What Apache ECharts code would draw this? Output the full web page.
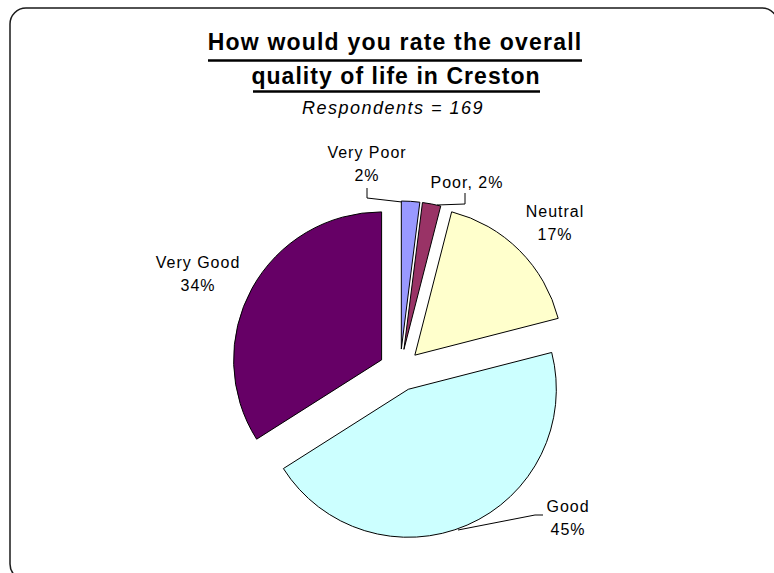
<!DOCTYPE html>
<html>
<head>
<meta charset="utf-8">
<script src="https://cdn.jsdelivr.net/npm/echarts@6/dist/echarts.min.js"></script>
<style>
  html, body { margin: 0; padding: 0; background: #fff; }
  #chart { width: 774px; height: 573px; }
</style>
</head>
<body>
<div id="chart"></div>
<script>
// Survey answers, clockwise from 12 o'clock
const categories = ['Very Poor', 'Poor', 'Neutral', 'Good', 'Very Good'];
const percentages = [2, 2, 17, 45, 34];
const sliceColors = ['#9999FF', '#993366', '#FFFFCC', '#CCFFFF', '#660066'];
const titleLines = ['How would you rate the overall', 'quality of life in Creston'];
const subtitle = 'Respondents = 169';

const FONT = '"Liberation Sans", Arial, Helvetica, sans-serif';

// where each category label sits (centre of first line), whether name and value share a line,
// and the leader line (if any) that runs from the label back to its slice
const labelSpots = [
  { x: 367, y: 152, inline: false, line: [[367, 188], [367, 198], [402, 202]] },
  { x: 467, y: 182, inline: true,  line: [[465, 193], [465, 204], [437, 205]] },
  { x: 555, y: 211, inline: false, line: null },
  { x: 568, y: 506, inline: false, line: [[543, 515], [535, 515], [458, 530]] },
  { x: 198, y: 262, inline: false, line: null }
];
const LINE_GAP = 23;

const chart = echarts.init(document.getElementById('chart'), null, { renderer: 'svg' });

const data = categories.map((name, i) => ({
  name,
  value: percentages[i],
  selected: true,
  itemStyle: { color: sliceColors[i] }
}));

function textEl(text, x, y, font) {
  return {
    type: 'text', x, y, silent: true,
    style: {
      text, font, fill: '#000',
      align: 'center', verticalAlign: 'middle',
      textAlign: 'center', textVerticalAlign: 'middle'
    }
  };
}

const graphics = [
  {
    type: 'rect', silent: true,
    shape: { x: 10, y: 8, width: 768, height: 572, r: 16 },
    style: { fill: 'none', stroke: '#1a1a1a', lineWidth: 1.5 }
  },
  textEl(titleLines[0], 395, 42, 'bold 23px ' + FONT),
  textEl(titleLines[1], 396, 76, 'bold 23px ' + FONT),
  { type: 'line', silent: true, shape: { x1: 208, y1: 60.5, x2: 582, y2: 60.5 }, style: { stroke: '#000', lineWidth: 2.5 } },
  { type: 'line', silent: true, shape: { x1: 253, y1: 91.5, x2: 540, y2: 91.5 }, style: { stroke: '#000', lineWidth: 2.5 } },
  textEl(subtitle, 393, 108, 'italic 18px ' + FONT)
];

// category labels, built from the same arrays as the slices
categories.forEach((name, i) => {
  const spot = labelSpots[i];
  const pct = percentages[i] + '%';
  if (spot.inline) {
    graphics.push(textEl(name + ', ' + pct, spot.x, spot.y, '16px ' + FONT));
  } else {
    graphics.push(textEl(name, spot.x, spot.y, '16px ' + FONT));
    graphics.push(textEl(pct, spot.x, spot.y + LINE_GAP, '16px ' + FONT));
  }
  if (spot.line) {
    graphics.push({
      type: 'polyline', silent: true,
      shape: { points: spot.line },
      style: { stroke: '#000', lineWidth: 1, fill: 'none' }
    });
  }
});

chart.setOption({
  animation: false,
  graphic: graphics,
  series: [{
    type: 'pie',
    center: [400, 370],
    radius: 148,
    startAngle: 90,
    clockwise: true,
    selectedMode: 'multiple',
    selectedOffset: 21,
    data,
    itemStyle: { borderColor: '#000', borderWidth: 1 },
    select: { itemStyle: { borderColor: '#000', borderWidth: 1 } },
    emphasis: { disabled: true },
    label: { show: false },
    labelLine: { show: false }
  }]
});

// wider letter spacing for the text, as in the printed survey charts
function spaceLetters() {
  const spacing = {};
  spacing[titleLines[0]] = 1.2;
  spacing[titleLines[1]] = 1.05;
  spacing[subtitle] = 1.5;
  document.querySelectorAll('#chart svg text').forEach(t => {
    const s = spacing[t.textContent] !== undefined ? spacing[t.textContent] : 1;
    t.setAttribute('letter-spacing', s + 'px');
    t.style.letterSpacing = s + 'px';
  });
}
spaceLetters();
chart.on('finished', spaceLetters);
</script>
</body>
</html>
